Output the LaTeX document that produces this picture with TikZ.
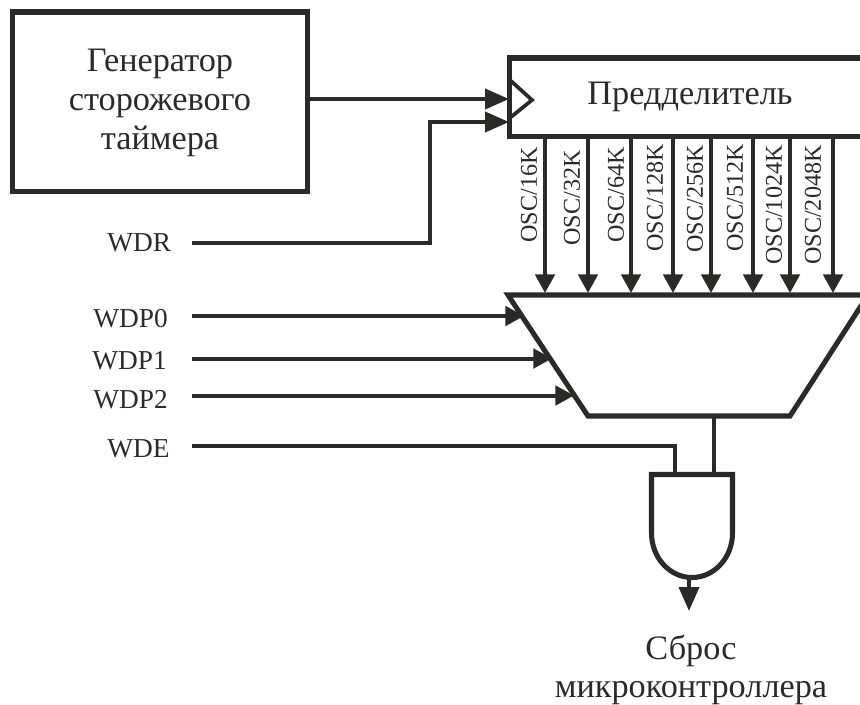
\documentclass[tikz,border=0pt]{standalone}
\usepackage{fontspec}
\setmainfont{Liberation Serif}
\usetikzlibrary{arrows.meta}
\definecolor{ink}{HTML}{2B2A29}
\tikzset{
  every node/.style={text=ink},
  thick line/.style={draw=ink,line width=3.8pt,line join=miter},
  wire/.style={draw=ink,line width=3pt},
  arrowwire/.style={wire,-{Triangle[length=14pt,width=14.5pt]}},
  longarrow/.style={wire,-{Triangle[length=18pt,width=15pt]}},
  big/.style={font=\fontsize{25.7}{29}\selectfont,align=center,inner sep=0pt},
  sig/.style={font=\fontsize{20.5}{24}\selectfont,inner sep=0pt,anchor=base west},
  osc/.style={font=\fontsize{18.1}{20}\selectfont,inner sep=0pt,rotate=90}
}
\begin{document}
\begin{tikzpicture}[x=0.75pt,y=-0.75pt]
\useasboundingbox (0,0) rectangle (860,704);
\clip (0,0) rectangle (860,704);
% coordinates
\coordinate (genBL) at (12.5,191.5); \coordinate (genTR) at (307.5,12);
\coordinate (preBL) at (509.5,136.5); \coordinate (preTR) at (890,58);
\coordinate (trTL) at (508,295); \coordinate (trTR) at (868,295);
\coordinate (trBR) at (790,416); \coordinate (trBL) at (588,416);
% inputs
\coordinate (clkA) at (509,99); \coordinate (clkB) at (509,122);
\coordinate (gOut) at (308,99); \coordinate (wdrS) at (192,243);
\draw[longarrow] (gOut) -- (clkA);
\draw[longarrow] (wdrS) -| (430,122) -- (clkB);
\coordinate (p0s) at (192,316); \coordinate (p0e) at (524,316);
\coordinate (p1s) at (192,358.5); \coordinate (p1e) at (552,358.5);
\coordinate (p2s) at (192,395.5); \coordinate (p2e) at (574,395.5);
\draw[arrowwire] (p0s) -- (p0e);
\draw[arrowwire] (p1s) -- (p1e);
\draw[arrowwire] (p2s) -- (p2e);
% OSC arrows
\foreach \x in {545,588,631,673,711,753,790,833}{
  \draw[arrowwire] (\x,137) -- (\x,293);
}
% boxes
\draw[thick line] (genBL) rectangle (genTR);
\draw[thick line] (preBL) rectangle (preTR);
\draw[thick line] (trTL) -- (trTR) -- (trBR) -- (trBL) -- cycle;
\draw[draw=ink,line width=2.8pt,line join=miter] (511,81) -- (532,100) -- (511,117);
% texts
\node[big] (gen) at (160,103) {Генератор\\сторожевого\\таймера};
\node[big] (pre) at (690,97) {Предделитель};
% left signals
\node[sig] (wdr) at (107,251) {WDR};
\node[sig] (wdp0) at (93,327) {WDP0};
\node[sig] (wdp1) at (92,369) {WDP1};
\node[sig] (wdp2) at (93,408) {WDP2};
\node[sig] (wde) at (107,457) {WDE};
\node[osc] (o1) at (529,195) {OSC/16K};
\node[osc] (o2) at (572,198) {OSC/32K};
\node[osc] (o3) at (616,195) {OSC/64K};
\node[osc] (o4) at (655,198) {OSC/128K};
\node[osc] (o5) at (695,199) {OSC/256K};
\node[osc] (o6) at (735,198) {OSC/512K};
\node[osc] (o7) at (774,205) {OSC/1024K};
\node[osc] (o8) at (813,205) {OSC/2048K};
% AND gate
\coordinate (wdeS) at (192,446); \coordinate (andA) at (675,474);
\coordinate (muxO) at (713.5,416); \coordinate (andB) at (713.5,474);
\draw[wire] (wdeS) -| (andA);
\draw[wire] (muxO) -- (andB);
\coordinate (andO) at (689,577); \coordinate (rst) at (689,611);
\draw[longarrow] (andO) -- (rst);
\draw[thick line] (692,577.5) arc[start angle=90,end angle=180,x radius=40.5,y radius=44.5] -- (651.5,474.5) -- (732.5,474.5) -- (732.5,533) arc[start angle=0,end angle=90,x radius=40.5,y radius=44.5];
\node[big] (out) at (691,670) {Сброс\\микроконтроллера};
\end{tikzpicture}
\end{document}
